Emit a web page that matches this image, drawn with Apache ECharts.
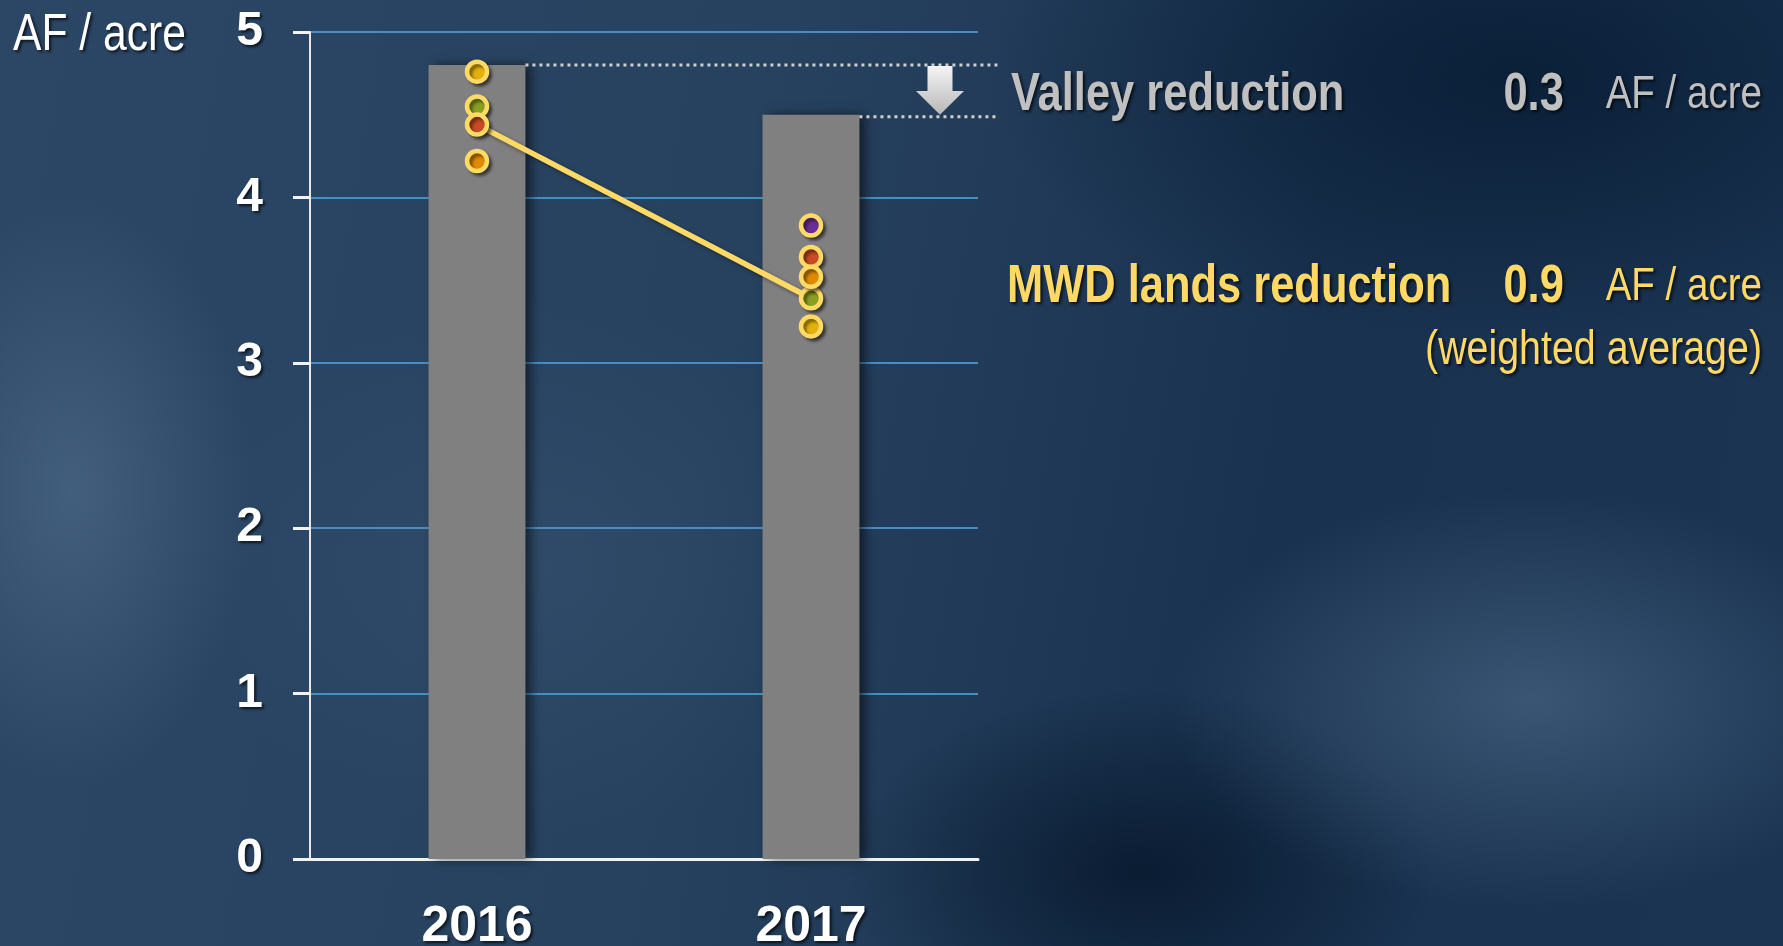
<!DOCTYPE html>
<html>
<head>
<meta charset="utf-8">
<script src="https://cdn.jsdelivr.net/npm/echarts@6/dist/echarts.min.js"></script>
<style>
  html, body { margin: 0; padding: 0; }
  #chart {
    width: 1783px;
    height: 946px;
    background:
      radial-gradient(ellipse 260px 420px at 4% 52%, rgba(95,125,155,0.45), rgba(95,125,155,0) 70%),
      radial-gradient(ellipse 520px 300px at 86% 74%, rgba(90,120,150,0.5), rgba(90,120,150,0) 70%),
      radial-gradient(ellipse 420px 260px at 64% 92%, rgba(5,20,40,0.75), rgba(5,20,40,0) 70%),
      radial-gradient(ellipse 700px 360px at 85% 8%, rgba(8,28,52,0.85), rgba(8,28,52,0) 75%),
      radial-gradient(ellipse 500px 380px at 30% 60%, rgba(60,90,120,0.35), rgba(60,90,120,0) 70%),
      linear-gradient(100deg, #2c4766 0%, #27425f 40%, #19324f 70%, #1a3452 100%);
  }
</style>
</head>
<body>
<div id="chart"></div>
<script>
var years = ['2016', '2017']
var yTicks = [0, 1, 2, 3, 4, 5]
// gray bars: valley average
var valleyAvg = [4.8, 4.5]
// yellow line: MWD lands weighted average
var mwdAvg = [4.44, 3.39]
// individual MWD fields (null = no point that year)
var fieldYellow = [4.76, 3.22]
var fieldGreen = [4.55, 3.39]
var fieldRed = [4.44, 3.64]
var fieldOrange = [4.22, 3.52]
var fieldPurple = [null, 3.83]

var fields = [
  { name: 'yellow', color: '#e3b00c', data: fieldYellow },
  { name: 'green', color: '#8a9e22', data: fieldGreen },
  { name: 'red', color: '#c94a24', data: fieldRed },
  { name: 'orange', color: '#e08a00', data: fieldOrange },
  { name: 'purple', color: '#6a2c96', data: fieldPurple }
]

var font = '"Liberation Sans Narrow", "Liberation Sans", Arial, sans-serif'
var narrow = 0.82 // no narrow face installed, squeeze the free texts instead
var shadow = {
  textShadowColor: 'rgba(0,0,0,0.7)',
  textShadowBlur: 3,
  textShadowOffsetX: 2,
  textShadowOffsetY: 2
}
var barPct = 0.29
var yellow = '#ffd966'
var gray = '#c0c0c0'

var chart = echarts.init(document.getElementById('chart'))

var seriesList = [{
  name: 'Valley',
  type: 'bar',
  barWidth: (barPct * 100) + '%',
  itemStyle: {
    color: '#808080',
    shadowColor: 'rgba(0,0,0,0.55)',
    shadowBlur: 10,
    shadowOffsetX: 6
  },
  data: valleyAvg
}, {
  name: 'MWD lands',
  type: 'line',
  symbol: 'none',
  z: 3,
  lineStyle: {
    color: yellow,
    width: 5.5,
    shadowColor: 'rgba(0,0,0,0.4)',
    shadowBlur: 4,
    shadowOffsetX: 2,
    shadowOffsetY: 2
  },
  data: mwdAvg
}]

fields.forEach(function (f) {
  seriesList.push({
    name: f.name,
    type: 'scatter',
    symbolSize: 20,
    z: 4,
    itemStyle: {
      color: f.color,
      opacity: 1,
      borderColor: '#ffdb66',
      borderWidth: 4.5,
      shadowColor: 'rgba(0,0,0,0.45)',
      shadowBlur: 3,
      shadowOffsetX: 3,
      shadowOffsetY: 3
    },
    data: f.data
  })
})

chart.setOption({
  animation: false,
  backgroundColor: 'transparent',
  grid: {
    left: 310,
    right: 805,
    top: 32,
    bottom: 87,
    outerBoundsMode: 'none'
  },
  xAxis: {
    type: 'category',
    data: years,
    axisTick: { show: false },
    axisLine: {
      lineStyle: { color: '#f2f2f2', width: 3 }
    },
    axisLabel: Object.assign({
      margin: 43,
      fontFamily: font,
      fontSize: 50,
      fontWeight: 'bold',
      color: '#ffffff'
    }, shadow)
  },
  yAxis: {
    type: 'value',
    min: yTicks[0],
    max: yTicks[yTicks.length - 1],
    interval: 1,
    axisLine: {
      show: true,
      lineStyle: { color: '#e8e8e8', width: 2 }
    },
    axisTick: {
      show: true,
      length: 17,
      lineStyle: { color: '#f2f2f2', width: 3 }
    },
    axisLabel: Object.assign({
      margin: 47,
      fontFamily: font,
      fontSize: 48,
      fontWeight: 'bold',
      color: '#ffffff'
    }, shadow),
    splitLine: {
      lineStyle: { color: '#4a8dc4', width: 2 }
    }
  },
  series: seriesList
})

function textEl(x, y, align, style) {
  return {
    type: 'text',
    x: x,
    y: y,
    scaleX: narrow,
    z: 6,
    style: Object.assign({ align: align, verticalAlign: 'middle' }, shadow, style)
  }
}

// reduction annotations: dotted lines from bar tops, arrow and texts
function drawNotes() {
  var yTop = chart.convertToPixel({ yAxisIndex: 0 }, valleyAvg[0])
  var yLow = chart.convertToPixel({ yAxisIndex: 0 }, valleyAvg[1])
  var c0 = chart.convertToPixel({ xAxisIndex: 0 }, years[0])
  var c1 = chart.convertToPixel({ xAxisIndex: 0 }, years[1])
  var halfBar = (c1 - c0) * barPct / 2
  var lineEnd = 1783 - 805 + 20
  var ax = 940
  var mid = yTop + (yLow - yTop) * 0.52
  var dots = { stroke: '#cfcfcf', lineWidth: 3, lineDash: [3, 4] }
  var right = 1762

  chart.setOption({
    graphic: [{
      type: 'line',
      shape: { x1: c0 + halfBar, y1: yTop, x2: lineEnd, y2: yTop },
      style: dots,
      z: 5
    }, {
      type: 'line',
      shape: { x1: c1 + halfBar, y1: yLow + 2, x2: lineEnd, y2: yLow + 2 },
      style: dots,
      z: 5
    }, {
      type: 'polygon',
      shape: {
        points: [
          [ax - 12.5, yTop + 1], [ax + 12.5, yTop + 1], [ax + 12.5, mid],
          [ax + 24, mid], [ax, yLow], [ax - 24, mid], [ax - 12.5, mid]
        ]
      },
      style: {
        fill: new echarts.graphic.LinearGradient(0, 0, 0, 1, [
          { offset: 0, color: '#f4f4f4' },
          { offset: 1, color: '#b8b8b8' }
        ])
      },
      z: 6
    },
    textEl(13, 36, 'left', { text: 'AF / acre', font: '52px ' + font, fill: '#ffffff' }),
    textEl(1011, 95, 'left', { text: 'Valley reduction', font: 'bold 53px ' + font, fill: gray }),
    textEl(right, 95, 'right', {
      text: '{b|0.3}{s|}{r|AF / acre}',
      rich: {
        b: { font: 'bold 53px ' + font, fill: gray },
        s: { width: 51 },
        r: { font: '47px ' + font, fill: gray }
      }
    }),
    textEl(1007, 287, 'left', { text: 'MWD lands reduction', font: 'bold 53px ' + font, fill: yellow }),
    textEl(right, 287, 'right', {
      text: '{b|0.9}{s|}{r|AF / acre}',
      rich: {
        b: { font: 'bold 53px ' + font, fill: yellow },
        s: { width: 51 },
        r: { font: '47px ' + font, fill: yellow }
      }
    }),
    textEl(right, 351, 'right', { text: '(weighted average)', font: '48px ' + font, fill: yellow })
    ]
  })
}

drawNotes()
</script>
</body>
</html>
